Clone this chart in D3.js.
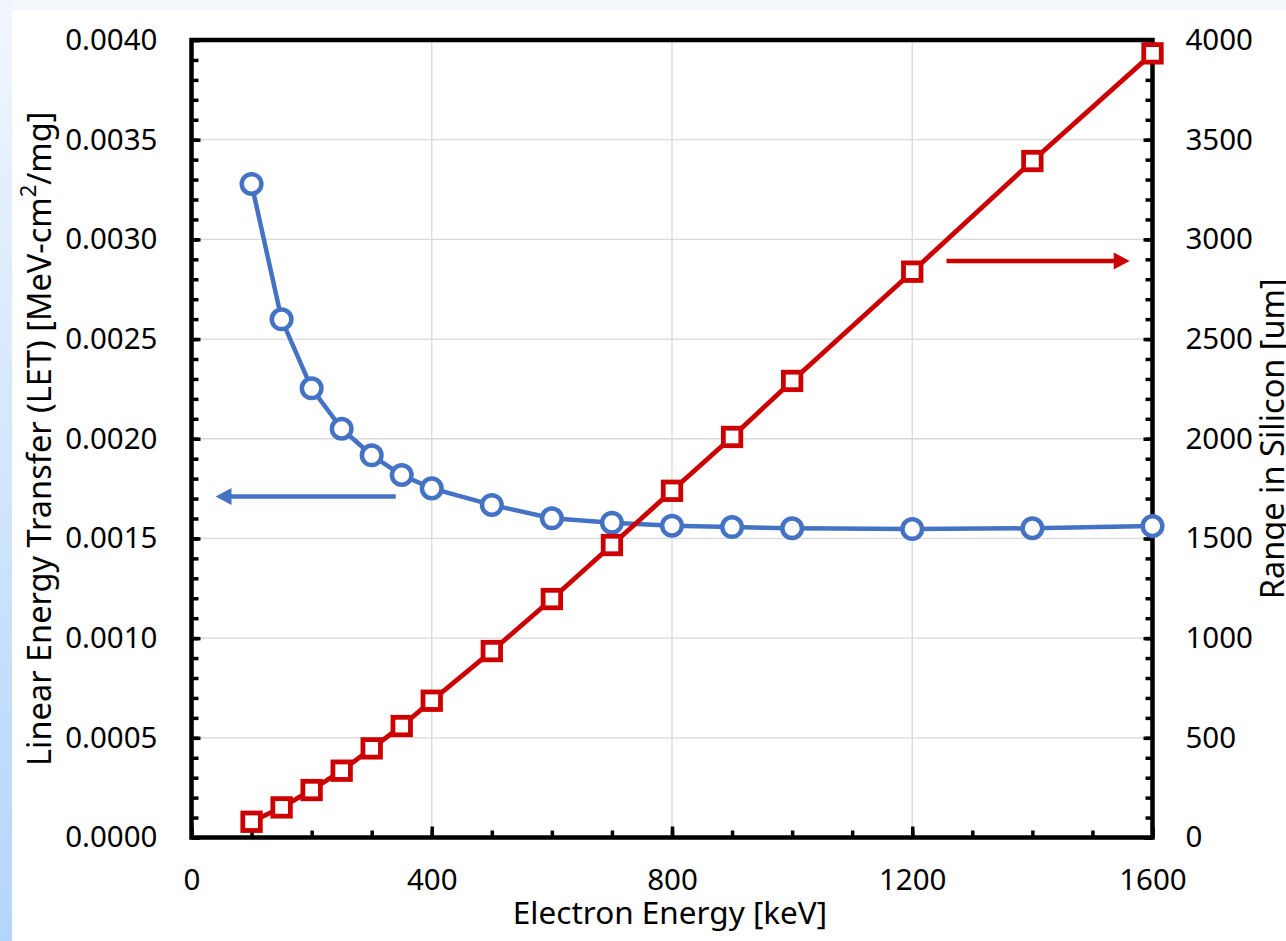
<!DOCTYPE html>
<html>
<head>
<meta charset="utf-8">
<script src="https://cdn.jsdelivr.net/npm/d3@7"></script>
<style>
  html, body { margin: 0; padding: 0; background: #f3f7fc; overflow: hidden; }
  svg { display: block; }
  text { font-family: "Noto Sans", sans-serif; fill: #000; }
</style>
</head>
<body>
<svg id="chart" width="1286" height="941"></svg>
<script>
// Electron energy in keV
const energy = [100, 150, 200, 250, 300, 350, 400, 500, 600, 700, 800, 900, 1000, 1200, 1400, 1600];
// Linear energy transfer in silicon, MeV-cm^2/mg
const letValues = [0.003278, 0.002599, 0.002253, 0.002050, 0.001917, 0.001818, 0.001751, 0.001668,
                   0.001601, 0.001579, 0.001564, 0.001557, 0.001551, 0.001547, 0.001551, 0.001562];
// Electron range in silicon, um
const rangeValues = [79, 151, 238, 335, 447, 559, 686, 935, 1196, 1467, 1739, 2009, 2290, 2838, 3393, 3933];

const xTicks = [0, 400, 800, 1200, 1600];
const xMinorTicks = d3.range(0, 1601, 100);
const letTicks = [0, 0.0005, 0.0010, 0.0015, 0.0020, 0.0025, 0.0030, 0.0035, 0.0040];
const letMinorTicks = d3.range(0, 41).map(i => i * 0.0001);
const rangeTicks = [0, 500, 1000, 1500, 2000, 2500, 3000, 3500, 4000];
const rangeMinorTicks = d3.range(0, 4001, 100);
const xGrid = [400, 800, 1200];
const yGrid = [0.0005, 0.0010, 0.0015, 0.0020, 0.0025, 0.0030, 0.0035];

// Direction arrows pointing at the axis each series belongs to
const letArrow = { from: 340, to: 40, value: 0.00171 };
const rangeArrow = { from: 1257, to: 1562, value: 2892 };

const W = 1286, H = 941;
const plot = { left: 191.5, right: 1152.5, top: 40, bottom: 837.5 };

const svg = d3.select("#chart");

// page backdrop
const defs = svg.append("defs");
const grad = defs.append("linearGradient").attr("id", "edge").attr("x1", 0).attr("y1", 0).attr("x2", 0).attr("y2", 1);
grad.append("stop").attr("offset", "0%").attr("stop-color", "#f1f6fd");
grad.append("stop").attr("offset", "100%").attr("stop-color", "#b4d5fb");
svg.append("rect").attr("x", 0).attr("y", 0).attr("width", W).attr("height", H).attr("fill", "#f3f7fc");
svg.append("rect").attr("x", 0).attr("y", 0).attr("width", 12).attr("height", H).attr("fill", "url(#edge)");
svg.append("rect").attr("x", 12).attr("y", 10).attr("width", W - 12).attr("height", H - 10).attr("fill", "#ffffff");

const x = d3.scaleLinear().domain([0, 1600]).range([plot.left, plot.right]);
const yL = d3.scaleLinear().domain([0, 0.004]).range([plot.bottom, plot.top]);
const yR = d3.scaleLinear().domain([0, 4000]).range([plot.bottom, plot.top]);

// gridlines
const grid = svg.append("g").attr("stroke", "#d9d9d9").attr("stroke-width", 1.3);
grid.selectAll(".gx").data(xGrid).join("line")
  .attr("x1", d => x(d)).attr("x2", d => x(d))
  .attr("y1", plot.top).attr("y2", plot.bottom);
grid.selectAll(".gy").data(yGrid).join("line")
  .attr("x1", plot.left).attr("x2", plot.right)
  .attr("y1", d => yL(d)).attr("y2", d => yL(d));

// axes: ticks point into the plot
function styleAxis(g) {
  g.select(".domain").remove();
  g.selectAll(".tick line").attr("stroke", "#000").attr("stroke-width", 3.5);
  g.selectAll(".tick text").style("font-size", "29.5px").attr("fill", "#000");
}

svg.append("g").attr("transform", `translate(${plot.left},0)`)
  .call(d3.axisLeft(yL).tickValues(letMinorTicks).tickSize(-7).tickFormat(""))
  .call(styleAxis);
svg.append("g").attr("transform", `translate(${plot.left},0)`)
  .call(d3.axisLeft(yL).tickValues(letTicks).tickSize(-9).tickPadding(34).tickFormat(d3.format(".4f")))
  .call(styleAxis);

svg.append("g").attr("transform", `translate(${plot.right},0)`)
  .call(d3.axisRight(yR).tickValues(rangeMinorTicks).tickSize(-7).tickFormat(""))
  .call(styleAxis);
svg.append("g").attr("transform", `translate(${plot.right},0)`)
  .call(d3.axisRight(yR).tickValues(rangeTicks).tickSize(-9).tickPadding(33).tickFormat(d3.format("d")))
  .call(styleAxis);

svg.append("g").attr("transform", `translate(0,${plot.bottom})`)
  .call(d3.axisBottom(x).tickValues(xMinorTicks).tickSize(-7).tickFormat(""))
  .call(styleAxis);
svg.append("g").attr("transform", `translate(0,${plot.bottom})`)
  .call(d3.axisBottom(x).tickValues(xTicks).tickSize(-11).tickPadding(32).tickFormat(d3.format("d")))
  .call(styleAxis);

// plot frame
svg.append("rect")
  .attr("x", plot.left).attr("y", plot.top)
  .attr("width", plot.right - plot.left).attr("height", plot.bottom - plot.top)
  .attr("fill", "none").attr("stroke", "#000").attr("stroke-width", 4.5);

const blue = "#4472c4", red = "#cc0000";

// LET series
const letData = energy.map((e, i) => [e, letValues[i]]);
svg.append("path").datum(letData)
  .attr("fill", "none").attr("stroke", blue).attr("stroke-width", 4.5).attr("stroke-linejoin", "round")
  .attr("d", d3.line().x(d => x(d[0])).y(d => yL(d[1])));
svg.append("g").selectAll("circle").data(letData).join("circle")
  .attr("cx", d => x(d[0])).attr("cy", d => yL(d[1])).attr("r", 9.8)
  .attr("fill", "#fff").attr("stroke", blue).attr("stroke-width", 4.5);

// range series
const rangeData = energy.map((e, i) => [e, rangeValues[i]]);
svg.append("path").datum(rangeData)
  .attr("fill", "none").attr("stroke", red).attr("stroke-width", 4.8).attr("stroke-linejoin", "round")
  .attr("d", d3.line().x(d => x(d[0])).y(d => yR(d[1])));
const sq = 17.5;
svg.append("g").selectAll("rect").data(rangeData).join("rect")
  .attr("x", d => x(d[0]) - sq / 2).attr("y", d => yR(d[1]) - sq / 2)
  .attr("width", sq).attr("height", sq)
  .attr("fill", "#fff").attr("stroke", red).attr("stroke-width", 4.8);

// arrows
function arrow(x0, x1, yy, color) {
  const dir = Math.sign(x1 - x0), headLen = 16, headHalf = 8.5;
  svg.append("line")
    .attr("x1", x0).attr("x2", x1 - dir * headLen * 0.8).attr("y1", yy).attr("y2", yy)
    .attr("stroke", color).attr("stroke-width", 4.5);
  svg.append("path")
    .attr("d", `M${x1},${yy} L${x1 - dir * headLen},${yy - headHalf} L${x1 - dir * headLen},${yy + headHalf} Z`)
    .attr("fill", color);
}
arrow(x(letArrow.from), x(letArrow.to), yL(letArrow.value), blue);
arrow(x(rangeArrow.from), x(rangeArrow.to), yR(rangeArrow.value), red);

// axis titles
const midY = (plot.top + plot.bottom) / 2;
svg.append("text")
  .attr("x", (plot.left + plot.right) / 2 - 2).attr("y", 924)
  .attr("text-anchor", "middle").style("font-size", "31.5px")
  .text("Electron Energy [keV]");

const lt = svg.append("text")
  .attr("transform", `translate(51,${midY}) rotate(-90)`)
  .attr("text-anchor", "middle").style("font-size", "32.5px");
lt.append("tspan").text("Linear Energy Transfer (LET) [MeV-cm");
lt.append("tspan").attr("baseline-shift", "super").style("font-size", "22px").text("2");
lt.append("tspan").text("/mg]");

svg.append("text")
  .attr("transform", `translate(1284,${midY}) rotate(-90)`)
  .attr("text-anchor", "middle").style("font-size", "32.5px")
  .text("Range in Silicon [um]");
</script>
</body>
</html>
